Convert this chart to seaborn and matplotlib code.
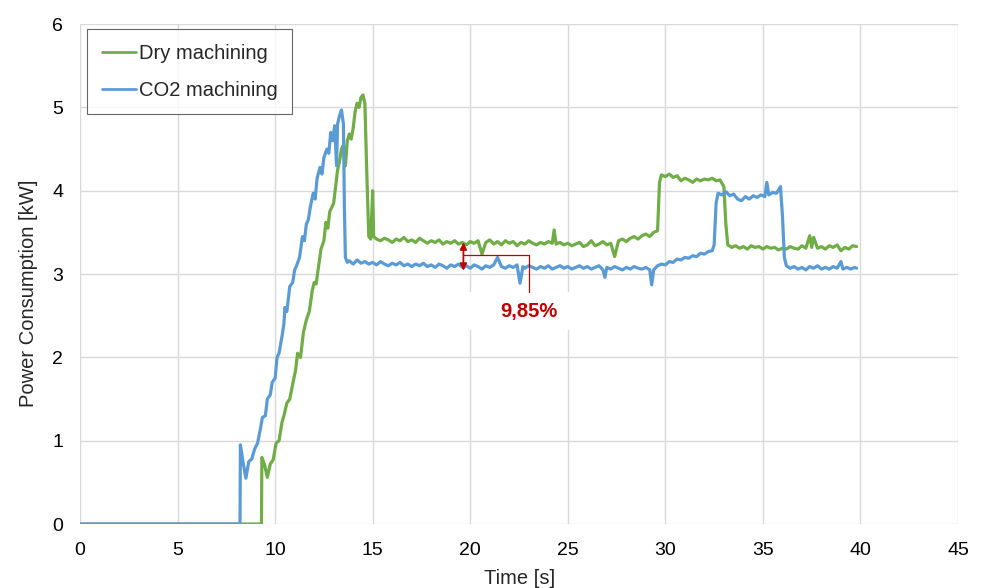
"""
Power consumption over time: dry vs CO2 machining
"""
import numpy as np
import pandas as pd
import matplotlib.pyplot as plt
import seaborn as sns
from matplotlib.patches import Rectangle

# Dry machining trace
dry_time = [
    0, 9.3, 9.32, 9.45, 9.6, 9.75, 9.9, 10.05, 10.2, 10.35, 10.45, 10.6, 10.75, 10.9,
    11.05, 11.15, 11.3, 11.45, 11.6, 11.75, 11.9, 12.0, 12.1, 12.2, 12.35, 12.5, 12.6,
    12.7, 12.8, 12.9, 13.0, 13.1, 13.2, 13.3, 13.4, 13.5, 13.6, 13.7, 13.8, 13.9, 14.0,
    14.1, 14.2, 14.3, 14.4, 14.5, 14.6, 14.7, 14.8, 14.9, 15.0, 15.05,
    15.2, 15.4, 15.6, 15.8, 16.0, 16.2, 16.4, 16.6, 16.8, 17.0, 17.2, 17.4, 17.6, 17.8,
    18.0, 18.2, 18.4, 18.6, 18.8, 19.0, 19.2, 19.4, 19.6, 19.8, 20.0, 20.2, 20.4, 20.6,
    20.8, 21.0, 21.2, 21.4, 21.6, 21.8, 22.0, 22.2, 22.4, 22.6, 22.8, 23.0, 23.2, 23.4,
    23.6, 23.8, 24.0, 24.2, 24.3, 24.4, 24.6, 24.8, 25.0, 25.2, 25.4, 25.6, 25.8, 26.0,
    26.2, 26.4, 26.6, 26.8, 27.0, 27.2, 27.4, 27.6, 27.8, 28.0, 28.2, 28.4, 28.6, 28.8,
    29.0, 29.2, 29.4, 29.6, 29.7, 29.8, 30.0, 30.2, 30.4, 30.6, 30.8, 31.0, 31.2, 31.4,
    31.6, 31.8, 32.0, 32.2, 32.4, 32.6, 32.8, 33.0, 33.1, 33.2, 33.4, 33.6, 33.8, 34.0,
    34.2, 34.4, 34.6, 34.8, 35.0, 35.2, 35.4, 35.6, 35.8, 36.0, 36.2, 36.4, 36.6, 36.8,
    37.0, 37.2, 37.4, 37.5, 37.6, 37.8, 38.0, 38.2, 38.4, 38.6, 38.8, 39.0, 39.2, 39.4,
    39.6, 39.8,
]
dry_power = [
    0, 0, 0.8, 0.72, 0.56, 0.72, 0.77, 0.97, 1.0, 1.22, 1.3, 1.45, 1.5, 1.68,
    1.85, 2.05, 2.0, 2.3, 2.45, 2.55, 2.8, 2.9, 2.88, 3.05, 3.3, 3.4, 3.62,
    3.55, 3.75, 3.8, 3.85, 4.05, 4.25, 4.35, 4.5, 4.55, 4.3, 4.6, 4.68, 4.62, 4.75,
    4.95, 5.05, 5.0, 5.12, 5.15, 5.05, 4.2, 3.45, 3.42, 4.0, 3.45,
    3.42, 3.4, 3.43, 3.41, 3.38, 3.42, 3.4, 3.44, 3.39, 3.41, 3.38, 3.43, 3.4, 3.37,
    3.4, 3.38, 3.41, 3.36, 3.39, 3.37, 3.4, 3.36, 3.38, 3.35, 3.39, 3.37, 3.4, 3.24,
    3.38, 3.41, 3.36, 3.39, 3.35, 3.4, 3.37, 3.39, 3.34, 3.38, 3.36, 3.4, 3.37, 3.35,
    3.38, 3.36, 3.39, 3.37, 3.53, 3.36, 3.38, 3.35, 3.37, 3.34, 3.36, 3.38, 3.33, 3.35,
    3.4, 3.34, 3.36, 3.39, 3.35, 3.37, 3.21, 3.4, 3.42, 3.39, 3.43, 3.45, 3.42, 3.46,
    3.48, 3.45, 3.5, 3.52, 4.1, 4.19, 4.17, 4.2, 4.16, 4.18, 4.12, 4.15, 4.13, 4.1,
    4.14, 4.12, 4.14, 4.13, 4.15, 4.12, 4.13, 4.05, 3.6, 3.35, 3.32, 3.34, 3.31, 3.33,
    3.3, 3.34, 3.32, 3.33, 3.3, 3.33, 3.31, 3.32, 3.29, 3.31, 3.3, 3.33, 3.31, 3.3,
    3.34, 3.31, 3.46, 3.32, 3.44, 3.31, 3.33, 3.3, 3.34, 3.32, 3.35, 3.28, 3.32, 3.3,
    3.34, 3.33,
]

# CO2 machining trace
co2_time = [
    0, 8.2, 8.22, 8.35, 8.5, 8.65, 8.8, 8.95, 9.1, 9.25, 9.35, 9.5, 9.6, 9.75, 9.85,
    10.0, 10.1, 10.2, 10.35, 10.45, 10.5, 10.6, 10.75, 10.9, 11.0, 11.1, 11.25, 11.4,
    11.5, 11.6, 11.7, 11.8, 11.95, 12.05, 12.15, 12.3, 12.4, 12.5, 12.65, 12.75, 12.85,
    12.95, 13.05, 13.15, 13.2, 13.3, 13.4, 13.5, 13.55, 13.6, 13.7,
    13.8, 14.0, 14.2, 14.4, 14.6, 14.8, 15.0, 15.2, 15.4, 15.6, 15.8, 16.0, 16.2, 16.4,
    16.6, 16.8, 17.0, 17.2, 17.4, 17.6, 17.8, 18.0, 18.2, 18.4, 18.6, 18.8, 19.0, 19.2,
    19.4, 19.6, 19.8, 20.0, 20.2, 20.4, 20.6, 20.8, 21.0, 21.2, 21.4, 21.6, 21.8, 22.0,
    22.2, 22.4, 22.55, 22.7, 22.8, 23.0, 23.2, 23.4, 23.6, 23.8, 24.0, 24.2, 24.4, 24.6,
    24.8, 25.0, 25.2, 25.4, 25.6, 25.8, 26.0, 26.2, 26.4, 26.6, 26.8, 26.9, 27.0, 27.2,
    27.4, 27.6, 27.8, 28.0, 28.2, 28.4, 28.6, 28.8, 29.0, 29.2, 29.3, 29.4, 29.6, 29.8,
    30.0, 30.2, 30.4, 30.6, 30.8, 31.0, 31.2, 31.4, 31.6, 31.8, 32.0, 32.2, 32.4, 32.5,
    32.6, 32.7, 32.9, 33.1, 33.3, 33.5, 33.7, 33.9, 34.1, 34.3, 34.5, 34.7, 34.9, 35.1,
    35.2, 35.3, 35.5, 35.7, 35.9, 36.0, 36.1, 36.2, 36.4, 36.6, 36.8, 37.0, 37.2, 37.4,
    37.6, 37.8, 38.0, 38.2, 38.4, 38.6, 38.8, 39.0, 39.1, 39.3, 39.5, 39.7, 39.8,
]
co2_power = [
    0, 0, 0.95, 0.75, 0.55, 0.75, 0.78, 0.9, 0.97, 1.15, 1.28, 1.3, 1.5, 1.55, 1.7,
    1.75, 2.0, 2.05, 2.25, 2.4, 2.6, 2.55, 2.85, 2.9, 3.05, 3.1, 3.2, 3.45,
    3.4, 3.6, 3.65, 3.8, 3.97, 3.9, 4.15, 4.28, 4.2, 4.4, 4.5, 4.45, 4.7,
    4.6, 4.78, 4.3, 4.8, 4.9, 4.97, 4.8, 3.8, 3.2, 3.14,
    3.16, 3.12, 3.17, 3.13, 3.15, 3.12, 3.14, 3.11, 3.15, 3.12, 3.1, 3.13, 3.11, 3.14,
    3.1, 3.12, 3.09, 3.12, 3.1, 3.13, 3.09, 3.11, 3.08, 3.12, 3.1, 3.07, 3.11, 3.09,
    3.12, 3.08, 3.1, 3.07, 3.11, 3.09, 3.06, 3.1, 3.08, 3.11, 3.2, 3.09, 3.07, 3.1,
    3.08, 3.11, 2.89, 3.09, 3.07, 3.1, 3.08, 3.06, 3.09, 3.07, 3.1, 3.06, 3.08, 3.1,
    3.07, 3.09, 3.06, 3.08, 3.1, 3.07, 3.09, 3.06, 3.08, 3.1, 3.05, 2.96, 3.08, 3.06,
    3.09, 3.07, 3.05, 3.08, 3.06, 3.09, 3.07, 3.06, 3.08, 3.05, 2.87, 3.05, 3.1, 3.12,
    3.11, 3.15, 3.14, 3.18, 3.17, 3.2, 3.19, 3.22, 3.21, 3.25, 3.24, 3.27, 3.28, 3.35,
    3.85, 3.97, 3.95, 3.99, 3.94, 3.96, 3.9, 3.88, 3.93, 3.9, 3.94, 3.92, 3.95, 3.93,
    4.1, 3.95, 3.98, 3.97, 4.05, 3.7, 3.2, 3.1, 3.07, 3.09, 3.06, 3.08, 3.05, 3.09,
    3.07, 3.1, 3.06, 3.08, 3.06, 3.09, 3.07, 3.15, 3.06, 3.08, 3.06, 3.08, 3.07,
]

dry_df = pd.DataFrame({'time': dry_time, 'power': dry_power})
co2_df = pd.DataFrame({'time': co2_time, 'power': co2_power})

green = '#70AD47'
blue = '#5B9BD5'
red = '#C00000'
grid_col = '#D9D9D9'

sns.set_style('white')
plt.rcParams['font.family'] = ['Liberation Sans', 'DejaVu Sans']

fig, ax = plt.subplots(figsize=(9.83, 5.88), dpi=100)
fig.subplots_adjust(left=0.0814, right=0.9746, top=0.959, bottom=0.1088)

sns.lineplot(data=dry_df, x='time', y='power', ax=ax, color=green, lw=2.3,
             estimator=None, sort=False, label='Dry machining', zorder=3)
sns.lineplot(data=co2_df, x='time', y='power', ax=ax, color=blue, lw=2.3,
             estimator=None, sort=False, label='CO2 machining', zorder=4)

ax.set_xlim(0, 45)
ax.set_ylim(0, 6)
ax.set_xticks(np.arange(0, 46, 5))
ax.set_yticks(np.arange(0, 7, 1))
ax.grid(True, color=grid_col, lw=1.0, zorder=0)
ax.set_axisbelow(True)
for s in ax.spines.values():
    s.set_visible(False)
ax.tick_params(axis='x', length=0, labelsize=14, pad=13, colors='#000000')
ax.tick_params(axis='y', length=0, labelsize=14, pad=12, colors='#000000')
ax.set_xlabel('Time [s]', fontsize=14.5)
ax.set_ylabel('Power Consumption [kW]', fontsize=14.5)
ax.xaxis.set_label_coords(0.501, -0.089)
ax.yaxis.set_label_coords(-0.048, 0.462)

# white patch behind the percentage label
ax.add_patch(Rectangle((19.9, 2.33), 5.3, 0.45, facecolor='white',
                       edgecolor='none', zorder=1))

# difference annotation
ax.annotate('', xy=(19.65, 3.04), xytext=(19.65, 3.38),
            arrowprops=dict(arrowstyle='<|-|>', color=red, lw=1.3,
                            mutation_scale=10, shrinkA=0, shrinkB=0), zorder=5)
ax.plot([19.65, 23.0, 23.0], [3.23, 3.23, 2.78], color=red, lw=0.9, zorder=5)
ax.text(23.0, 2.55, '9,85%', color=red, fontsize=14.5, fontweight='bold',
        ha='center', va='center', zorder=5)

leg = ax.legend(loc='upper left', bbox_to_anchor=(0.008, 0.99), fontsize=14.5,
                frameon=True, fancybox=False, handlelength=1.7,
                handletextpad=0.15, labelspacing=0.9, borderpad=0.72,
                borderaxespad=0)
leg.get_frame().set_edgecolor('#404040')
leg.get_frame().set_linewidth(0.8)
for line in leg.get_lines():
    line.set_linewidth(2.0)

plt.savefig('out.png', dpi=100)
